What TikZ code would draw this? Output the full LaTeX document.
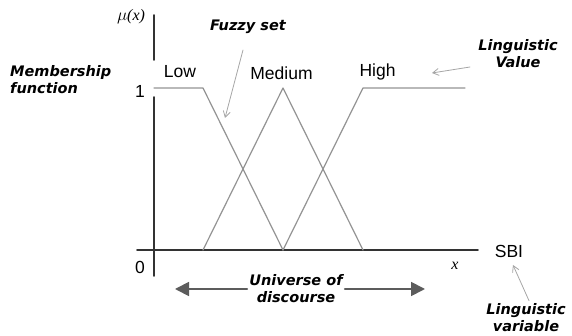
\documentclass[tikz,border=0pt]{standalone}
\usepackage{fontspec}
\setmainfont{Liberation Sans}
\newfontfamily\notefont{DejaVu Sans}
\newfontfamily\varfont{Liberation Serif}
\usetikzlibrary{arrows.meta}
\tikzset{
  axis/.style={line width=1.6pt, black!80},
  mfline/.style={line width=1.2pt, gray!85},
  note/.style={font=\notefont\bfseries\itshape\fontsize{14.5}{17}\selectfont, align=center, inner sep=0pt},
  lbl/.style={font=\fontsize{17.5}{19}\selectfont, inner sep=0pt},
  var/.style={font=\varfont\itshape\fontsize{16}{18}\selectfont, inner sep=0pt},
  pointer/.style={gray!70, line width=0.8pt, -{Straight Barb[length=6pt, width=7pt]}},
  spanarrow/.style={gray!30!black!75, line width=1.8pt, -{Triangle[length=14pt, width=14pt]}}
}
\begin{document}
\begin{tikzpicture}[x=10pt, y=10pt, line join=round, line cap=round]
\useasboundingbox (-15.4,-8.6) rectangle (41.8,25);

% axes (the vertical one has a gap next to the 1)
\draw[axis] (0,23.5) -- (0,19.0);
\draw[axis] (0,15.3) -- (0,-2.6);
\draw[axis] (-1.7,0) -- (32.4,0);

% membership functions
\draw[mfline] (0,16.2) -- (4.9,16.2) -- (12.9,0);
\draw[mfline] (4.9,0) -- (12.9,16.2) -- (20.9,0);
\draw[mfline] (12.9,0) -- (20.9,16.2) -- (31.1,16.2);

% axis labels
\node[lbl] (one) at (-1.4,15.9) {1};
\node[lbl] (zero) at (-1.4,-1.7) {0};
\node[var] (mu) at (-2.3,23.3) {$\mu$(x)};
\node[var] (xlbl) at (30.1,-1.6) {x};

% linguistic values
\node[lbl] (lowlbl) at (2.6,17.8) {Low};
\node[lbl] (medlbl) at (12.75,17.7) {Medium};
\node[lbl] (highlbl) at (22.35,17.8) {High};
\node[lbl] (sbi) at (35.5,-0.1) {SBI};

% annotations
\node[note] (fuzzy) at (9.4,22.3) {Fuzzy set};
\node[note, align=left, anchor=west] (member) at (-14.4,17.0) {Membership\\function};
\node[note] (lingval) at (36.4,19.6) {Linguistic\\Value};
\node[note] (lingvar) at (37.2,-6.8) {Linguistic\\variable};
\node[note] (universe) at (14.2,-3.9) {Universe of\\discourse};

\coordinate (fuzzytip) at (7.1,13.2);
\coordinate (valtip) at (27.8,17.7);
\coordinate (vartip) at (35.9,-1.5);
\coordinate (leftend) at (2.1,-3.9);
\coordinate (rightend) at (27.1,-3.9);

\draw[pointer] (8.9,20) -- (fuzzytip);
\draw[pointer] (31.6,18.3) -- (valtip);
\draw[pointer] (lingvar.north) ++(0.3,0.3) -- (vartip);
\draw[spanarrow] (universe.west |- leftend) ++(-0.2,0) -- (leftend);
\draw[spanarrow] (universe.east |- rightend) ++(0.2,0) -- (rightend);
\end{tikzpicture}
\end{document}
